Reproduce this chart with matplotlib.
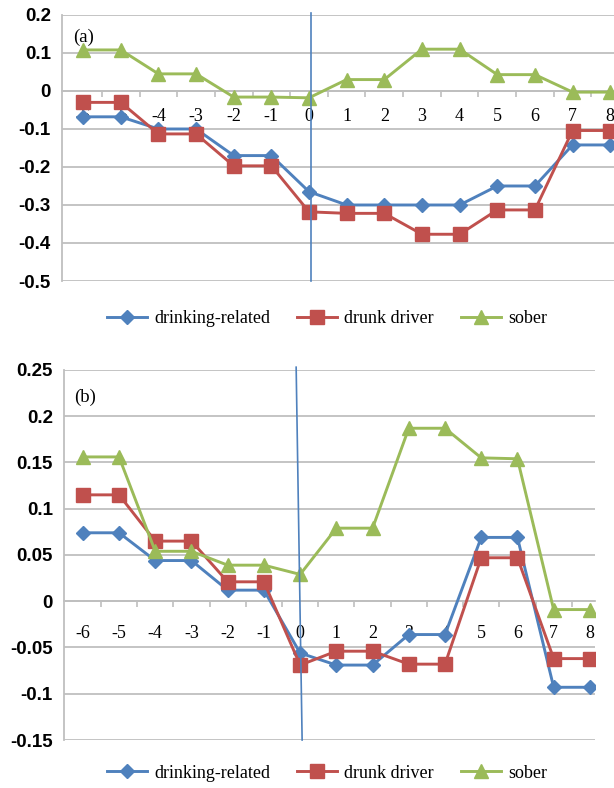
import matplotlib.pyplot as plt
from matplotlib.lines import Line2D

# event time (categories)
weeks = [-6, -5, -4, -3, -2, -1, 0, 1, 2, 3, 4, 5, 6, 7, 8]
week_labels = [str(w) for w in weeks]

# panel (a)
a_drinking = [-0.068, -0.068, -0.100, -0.100, -0.170, -0.170, -0.265, -0.300,
              -0.300, -0.300, -0.300, -0.250, -0.250, -0.142, -0.142]
a_drunk = [-0.030, -0.030, -0.113, -0.113, -0.197, -0.197, -0.318, -0.322,
           -0.322, -0.377, -0.377, -0.313, -0.313, -0.104, -0.104]
a_sober = [0.108, 0.108, 0.045, 0.045, -0.016, -0.016, -0.018, 0.030,
           0.030, 0.110, 0.110, 0.043, 0.043, -0.003, -0.003]
a_yticks = [0.2, 0.1, 0, -0.1, -0.2, -0.3, -0.4, -0.5]
a_ylabels = ['0.2', '0.1', '0', '-0.1', '-0.2', '-0.3', '-0.4', '-0.5']

# panel (b)
b_drinking = [0.074, 0.074, 0.044, 0.044, 0.012, 0.012, -0.056, -0.069,
              -0.069, -0.036, -0.036, 0.069, 0.069, -0.093, -0.093]
b_drunk = [0.115, 0.115, 0.065, 0.065, 0.021, 0.021, -0.069, -0.054,
           -0.054, -0.068, -0.068, 0.047, 0.047, -0.062, -0.062]
b_sober = [0.156, 0.156, 0.054, 0.054, 0.039, 0.039, 0.029, 0.079,
           0.079, 0.187, 0.187, 0.155, 0.154, -0.009, -0.009]
b_yticks = [0.25, 0.2, 0.15, 0.1, 0.05, 0, -0.05, -0.1, -0.15]
b_ylabels = ['0.25', '0.2', '0.15', '0.1', '0.05', '0', '-0.05', '-0.1', '-0.15']

series_names = ['drinking-related', 'drunk driver', 'sober']
colors = ['#4F81BD', '#C0504D', '#9BBB59']
markers = ['D', 's', '^']
msizes = [7, 10, 9.5]

grid_col = '#BFBFBF'
serif = 'Liberation Serif'
sans = 'Liberation Sans'

fig = plt.figure(figsize=(6.14, 7.88), dpi=100)
ax_a = fig.add_axes([0.101, 0.6434, 0.899, 0.3376])
ax_b = fig.add_axes([0.1042, 0.0609, 0.8648, 0.4696])


def style_axis(ax, ys, xlim, yticks, ylabels, label, xpad):
    for vals, c, m, ms in zip(ys, colors, markers, msizes):
        ax.plot(weeks, vals, color=c, marker=m, markersize=ms, linewidth=2.1,
                zorder=3)
    ax.set_xlim(*xlim)
    ax.set_ylim(yticks[-1], yticks[0])
    ax.set_yticks(yticks)
    ax.set_yticklabels(ylabels, fontfamily=sans, fontsize=13.5, fontweight='bold')
    ax.yaxis.grid(True, color=grid_col, linewidth=1.3)
    ax.set_axisbelow(True)
    ax.tick_params(axis='y', length=0, pad=8)
    for s in ['top', 'right']:
        ax.spines[s].set_visible(False)
    ax.spines['left'].set_color(grid_col)
    ax.spines['left'].set_linewidth(1.3)
    ax.spines['bottom'].set_position(('data', 0))
    ax.spines['bottom'].set_color(grid_col)
    ax.spines['bottom'].set_linewidth(1.3)
    ax.set_xticks(weeks)
    ax.set_xticklabels(week_labels, fontfamily=serif, fontsize=13)
    ax.tick_params(axis='x', which='major', length=0, pad=xpad)
    ax.set_xticks([w + 0.5 for w in weeks[:-1]], minor=True)
    ax.tick_params(axis='x', which='minor', length=4, width=1.2,
                   color=grid_col, direction='out')
    ax.text(0.02, 0.95, label, transform=ax.transAxes, fontfamily=serif,
            fontsize=13.5, va='top', ha='left')


style_axis(ax_a, [a_drinking, a_drunk, a_sober], (-6.56, 8.1),
           a_yticks, a_ylabels, '(a)', 12)
style_axis(ax_b, [b_drinking, b_drunk, b_sober], (-6.52, 8.14),
           b_yticks, b_ylabels, '(b)', 17)

# vertical reference lines at event time 0
ax_a.plot([0.05, 0.05], [0.205, -0.5], color='#4F81BD', linewidth=1.2,
          clip_on=False, zorder=4)
ax_b.plot([-0.11, 0.055], [0.253, -0.15], color='#4F81BD', linewidth=1.2,
          clip_on=False, zorder=4)

handles = [Line2D([], [], color=c, marker=m, markersize=ms, linewidth=2.1)
           for c, m, ms in zip(colors, markers, msizes)]
for y in [0.596, 0.019]:
    fig.legend(handles, series_names, loc='center', bbox_to_anchor=(0.533, y),
               ncol=3, frameon=False, prop={'family': serif, 'size': 13},
               handlelength=2.2, handletextpad=0.4, columnspacing=1.5)

fig.savefig('out.png', dpi=100)
